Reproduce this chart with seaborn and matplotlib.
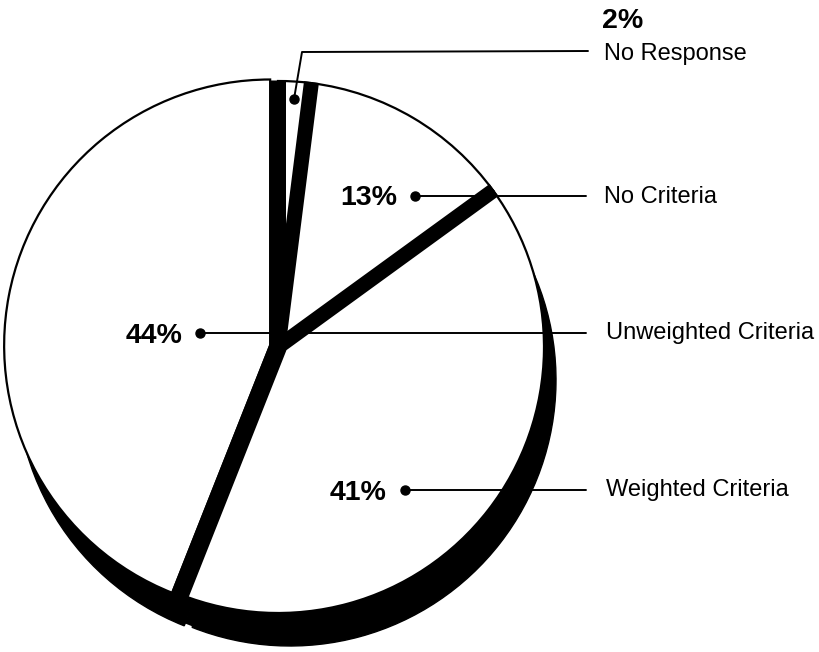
import numpy as np
import matplotlib
matplotlib.use("Agg")
import matplotlib.pyplot as plt
import seaborn as sns

# ---- data ----
labels = ["No Criteria", "No Response", "Unweighted Criteria", "Weighted Criteria"]
values = [13, 2, 44, 41]
pct_labels = ["13%", "2%", "44%", "41%"]

sns.set_theme(style="white")
plt.rcParams['font.family'] = ['Liberation Sans', 'DejaVu Sans']
plt.rcParams['text.color'] = 'black'

W, H = 819, 652
fig = plt.figure(figsize=(W / 100, H / 100), dpi=100)
ax = fig.add_axes([0, 0, 1, 1])


def P(x, y):
    """pixel (from top-left) -> data coords"""
    return x, H - y


cx, cy = P(278, 347)
R = 266
start = 36
explode = [0, 0, 8, 0]
shadow_off = (12, -33)
scx, scy = cx + shadow_off[0], cy + shadow_off[1]

fr = np.array(values, dtype=float) / sum(values)
bounds = start + 360 * np.concatenate([[0], np.cumsum(fr)[:-1]])

# shadow
ax.pie(values, startangle=start, counterclock=True, radius=R,
       center=(scx, scy), explode=explode,
       colors=['black'] * 4, wedgeprops=dict(linewidth=1, edgecolor='black', zorder=1),
       frame=True)
for ang in bounds:
    t = np.deg2rad(ang)
    ax.plot([scx, scx + (R - 1) * np.cos(t)], [scy, scy + (R - 1) * np.sin(t)],
            color='black', lw=12, solid_capstyle='butt', zorder=1.5)

# main pie
wedges, _ = ax.pie(values, startangle=start, counterclock=True, radius=R,
                   center=(cx, cy), explode=explode,
                   colors=['white'] * 4,
                   wedgeprops=dict(linewidth=1.6, edgecolor='black', zorder=2),
                   frame=True)

# thick black separator bands along slice boundaries
band_lw = [10.8, 10.8, 10.8, 13]
band_ext = [1, 1, 1, 6]
for ang, lw, ext in zip(bounds, band_lw, band_ext):
    t = np.deg2rad(ang)
    ax.plot([cx, cx + (R + ext) * np.cos(t)], [cy, cy + (R + ext) * np.sin(t)],
            color='black', lw=lw, solid_capstyle='butt', zorder=5)

# annotations
lab_fs = 17
pct_fs = 20.5
line_end = 586
text_x = 604

# 13% -> No Criteria
ax.plot(*zip(P(415, 196), P(line_end, 196)), color='black', lw=1.4, zorder=6)
ax.plot(*P(415, 196), 'o', color='black', ms=6.5, zorder=7)
ax.text(*P(397, 205), pct_labels[0], fontsize=pct_fs, fontweight='bold', ha='right', va='baseline')
ax.text(*P(text_x, 203), labels[0], fontsize=lab_fs, ha='left', va='baseline')

# 2% -> No Response
ax.plot(*zip(P(294, 99), P(302, 52), P(line_end + 2, 51)), color='black', lw=1.4, zorder=6)
ax.plot(*P(294, 99), 'o', color='black', ms=6.5, zorder=7)
ax.text(*P(602, 28), pct_labels[1], fontsize=pct_fs, fontweight='bold', ha='left', va='baseline')
ax.text(*P(text_x, 60), labels[1], fontsize=lab_fs, ha='left', va='baseline')

# 44% -> Unweighted Criteria
ax.plot(*zip(P(200, 333), P(line_end, 333)), color='black', lw=1.4, zorder=6)
ax.plot(*P(200, 333), 'o', color='black', ms=6.5, zorder=7)
ax.text(*P(183, 343), pct_labels[2], fontsize=pct_fs, fontweight='bold', ha='right', va='baseline')
ax.text(*P(text_x + 2, 339), labels[2], fontsize=lab_fs, ha='left', va='baseline')

# 41% -> Weighted Criteria
ax.plot(*zip(P(405, 490), P(line_end, 490)), color='black', lw=1.4, zorder=6)
ax.plot(*P(405, 490), 'o', color='black', ms=6.5, zorder=7)
ax.text(*P(386, 500), pct_labels[3], fontsize=pct_fs, fontweight='bold', ha='right', va='baseline')
ax.text(*P(text_x + 2, 496), labels[3], fontsize=lab_fs, ha='left', va='baseline')

ax.set_xlim(0, W)
ax.set_ylim(0, H)
ax.set_aspect('auto')
ax.axis('off')
fig.savefig("out.png", dpi=100, facecolor='white')
